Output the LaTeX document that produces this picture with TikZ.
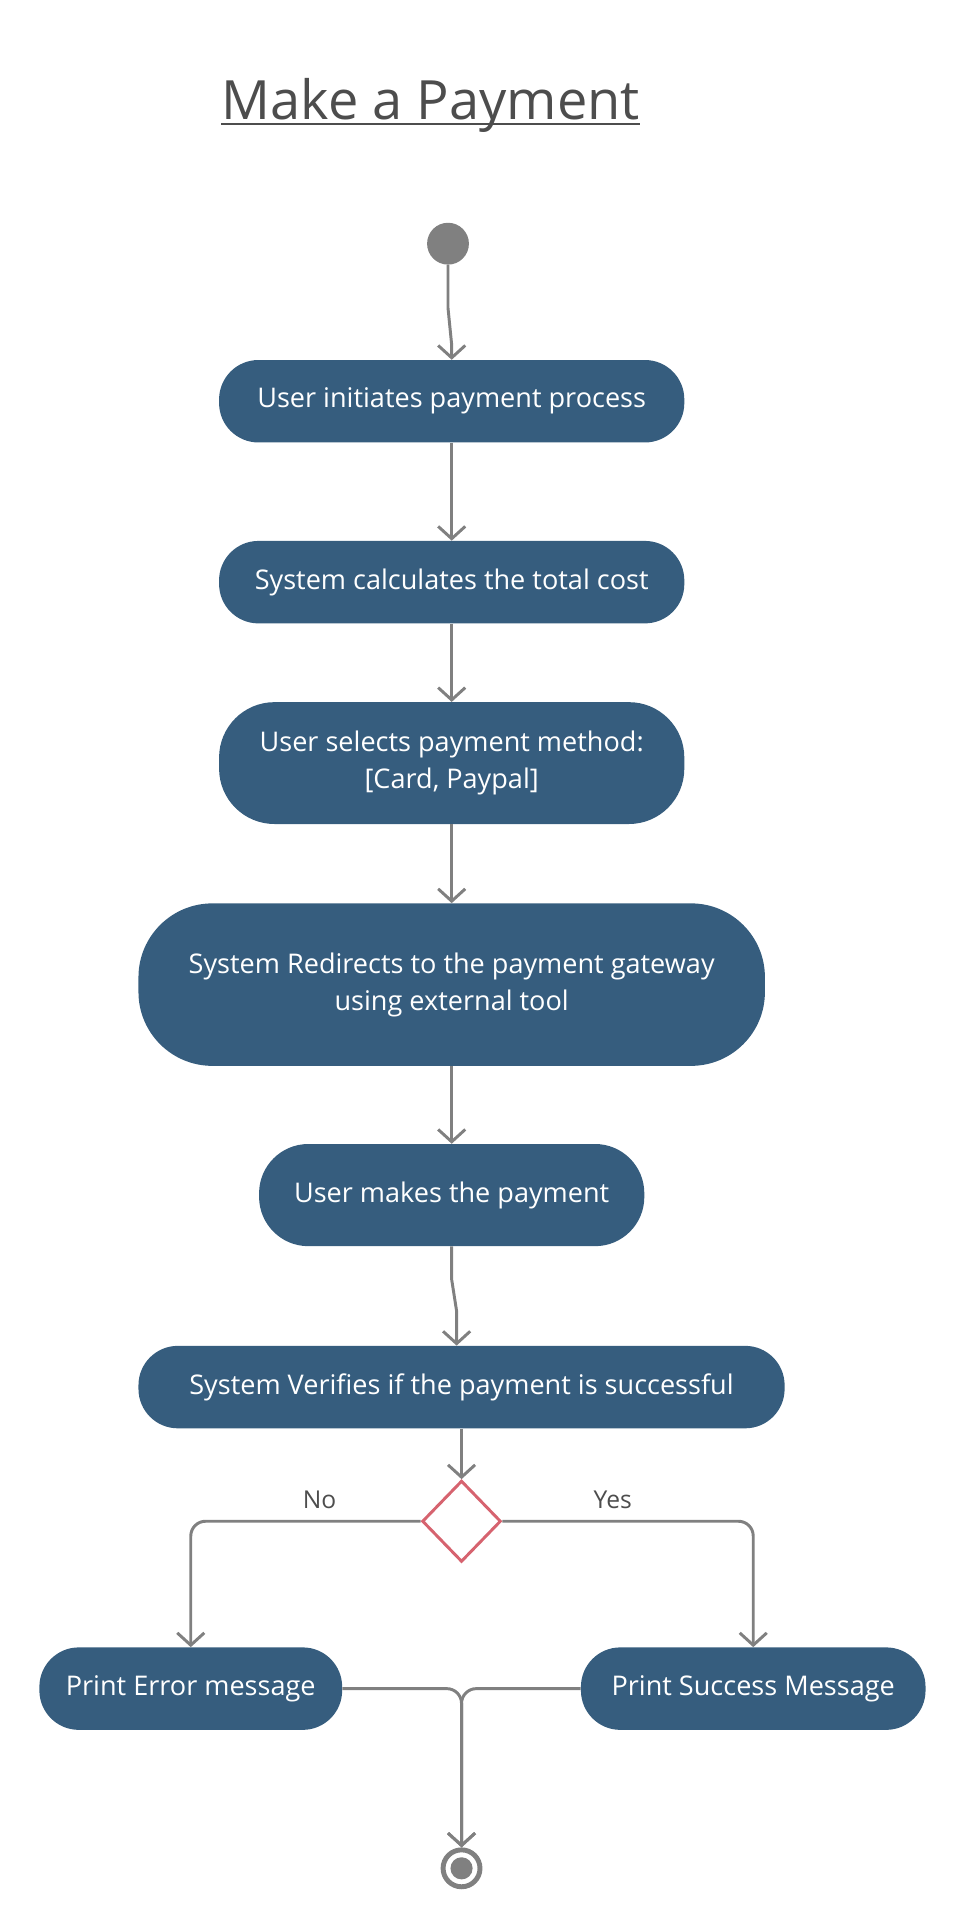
\documentclass[tikz,border=0pt]{standalone}
\usepackage{fontspec}
\setmainfont{Open Sans}
\usetikzlibrary{arrows.meta,shapes.geometric,calc}
\definecolor{actblue}{HTML}{365D7E}
\definecolor{flowgray}{HTML}{808080}
\definecolor{titlegray}{HTML}{4D4D4D}
\definecolor{decred}{HTML}{D6636F}
\tikzset{
    act/.style={fill=actblue, text=white, rounded corners=32pt, align=center, inner sep=0pt,
        minimum width=378pt, minimum height=67pt, font=\fontsize{22}{30}\selectfont},
    flow/.style={draw=flowgray, line width=2.4pt, -{Straight Barb[length=10pt,width=22pt]}},
    lbl/.style={text=titlegray, font=\fontsize{20}{24}\selectfont, inner sep=0pt}
}
\begin{document}
\begin{tikzpicture}[x=1pt, y=-1pt]
        \useasboundingbox (0,0) rectangle (780,1560);
        \node[anchor=base, text=titlegray, inner sep=0pt, font=\fontsize{44}{50}\selectfont] (title) at (350,97) {Make a Payment};
        \draw[titlegray, line width=1.6pt] ($(title.base west)+(0,4)$) -- ($(title.base east)+(0,4)$);
        \node[circle, fill=flowgray, minimum size=34pt, inner sep=0pt] (start) at (364,198) {};
        \node[act] (init) at (367,326) {User initiates payment process};
        \node[act] (calc) at (367,473) {System calculates the total cost};
        \node[act, minimum height=99pt, rounded corners=45pt] (select) at (367,620) {User selects payment method:\\{}[Card, Paypal]};
        \node[act, minimum width=509pt, minimum height=132pt, rounded corners=60pt] (redirect) at (367,800) {System Redirects to the payment gateway\\using external tool};
        \node[act, minimum width=313pt, minimum height=83pt, rounded corners=40pt] (pay) at (367,971) {User makes the payment};
        \node[act, minimum width=525pt] (verify) at (375,1127) {System Verifies if the payment is successful};
        \node[diamond, draw=decred, line width=2.4pt, minimum width=64pt, minimum height=66pt, inner sep=0pt] (dec) at (375,1236) {};
        \node[act, minimum width=246pt] (err) at (155,1372) {Print Error message};
        \node[act, minimum width=280pt] (succ) at (612,1372) {Print Success Message};
        \node[circle, draw=flowgray, line width=4pt, minimum size=30pt, inner sep=0pt] (stop) at (375,1518) {};
        \fill[flowgray] (stop.center) circle (9pt);
        \draw[flow] (start.south) -- ++(0,35) -- ($(init.north)+(0,-12)$) -- (init.north);
        \draw[flow] (init.south) -- (calc.north);
        \draw[flow] (calc.south) -- (select.north);
        \draw[flow] (select.south) -- (redirect.north);
        \draw[flow] (redirect.south) -- (pay.north);
        \draw[flow] (pay.south) -- ++(0,27) -- ($(verify.north)+(-4,-28)$) -- ($(verify.north)+(-4,0)$);
        \draw[flow] (verify.south) -- (dec.north);
        \draw[flow, rounded corners=12pt] (dec.west) -| (err.north) node[lbl, pos=0.22, above=9pt] {No};
        \draw[flow, rounded corners=12pt] (dec.east) -| (succ.north) node[lbl, pos=0.22, above=9pt] {Yes};
        \draw[flow, rounded corners=12pt] (err.east) -| (stop.north);
        \draw[flow, rounded corners=12pt] (succ.west) -| (stop.north);
    \end{tikzpicture}
\end{document}
